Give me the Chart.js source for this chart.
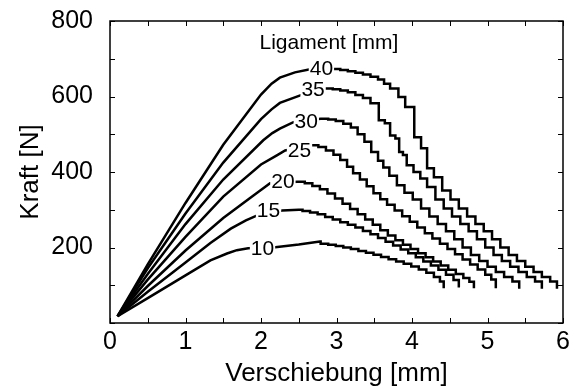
<!DOCTYPE html>
<html>
<head>
<meta charset="utf-8">
<script src="https://cdn.jsdelivr.net/npm/chart.js@4.4.1/dist/chart.umd.min.js"></script>
<style>
  html, body { margin: 0; padding: 0; background: #fff; }
  #wrap { width: 575px; height: 390px; }
</style>
</head>
<body>
<div id="wrap"><canvas id="c" width="575" height="390"></canvas></div>
<script>
// Force-displacement curves for different ligament lengths [mm]
const ligaments = [10, 15, 20, 25, 30, 35, 40];

// Rising (smooth) part of each curve: displacement [mm], force [N]
const riseX10 = [0.1, 0.5, 1.0, 1.33, 1.55, 1.68, 1.83, 2.16, 2.5, 2.78];
const riseY10 = [18, 66, 126, 166, 184, 193, 198, 200, 208, 216];
const riseX15 = [0.1, 0.5, 1.0, 1.33, 1.6, 1.8, 1.95, 2.28, 2.50];
const riseY15 = [18, 83, 160, 212, 250, 272, 285, 298, 300];
const riseX20 = [0.1, 0.5, 1.0, 1.5, 1.9, 2.12, 2.48];
const riseY20 = [18, 98, 192, 278, 338, 370, 374];
const riseX25 = [0.1, 0.5, 1.0, 1.5, 2.0, 2.21, 2.32, 2.67];
const riseY25 = [18, 115, 228, 335, 420, 444, 457, 471];
const riseX30 = [0.1, 0.5, 1.0, 1.5, 2.03, 2.15, 2.25, 2.43, 2.79];
const riseY30 = [18, 130, 262, 380, 484, 503, 515, 532, 541];
const riseX35 = [0.1, 0.5, 1.0, 1.5, 2.0, 2.14, 2.25, 2.52, 2.85];
const riseY35 = [18, 145, 290, 425, 540, 566, 583, 603, 621];
const riseX40 = [0.1, 0.5, 1.0, 1.5, 2.0, 2.14, 2.25, 2.45, 2.65, 2.96];
const riseY40 = [18, 155, 318, 472, 605, 634, 650, 664, 672, 673];

// Stepwise load drops after the peak: displacement of each drop and force after it
const stepX10 = [2.79, 2.89, 2.99, 3.09, 3.19, 3.29, 3.39, 3.49, 3.59, 3.69, 3.79, 3.89, 3.99, 4.09, 4.19, 4.29, 4.37, 4.42];
const stepY10 = [210, 207, 204, 200, 196, 191, 186, 181, 175, 169, 163, 157, 150, 142, 133, 122, 110, 92];
const stepX15 = [2.55, 2.65, 2.75, 2.85, 2.95, 3.05, 3.15, 3.25, 3.35, 3.45, 3.55, 3.65, 3.75, 3.85, 3.95, 4.05, 4.15, 4.25, 4.35, 4.45, 4.55, 4.62];
const stepY15 = [297, 293, 288, 281, 274, 267, 260, 253, 244, 235, 225, 215, 205, 195, 185, 174, 163, 152, 141, 128, 114, 94];
const stepX20 = [2.58, 2.68, 2.78, 2.88, 2.98, 3.08, 3.18, 3.28, 3.38, 3.48, 3.58, 3.68, 3.78, 3.88, 3.98, 4.08, 4.18, 4.28, 4.38, 4.48, 4.58, 4.68, 4.76, 4.82];
const stepY20 = [370, 363, 354, 343, 330, 316, 302, 288, 274, 260, 246, 232, 219, 207, 196, 185, 174, 163, 152, 141, 130, 119, 109, 92];
const stepX25 = [2.76, 2.86, 2.96, 3.05, 3.14, 3.22, 3.31, 3.40, 3.49, 3.58, 3.67, 3.77, 3.87, 3.97, 4.07, 4.17, 4.27, 4.37, 4.47, 4.57, 4.67, 4.77, 4.87, 4.97, 5.05, 5.11];
const stepY25 = [466, 457, 446, 432, 414, 397, 380, 362, 344, 328, 313, 298, 283, 268, 253, 238, 224, 210, 196, 182, 168, 155, 142, 128, 115, 92];
const stepX30 = [2.89, 2.99, 3.09, 3.19, 3.28, 3.37, 3.46, 3.55, 3.62, 3.70, 3.80, 3.90, 4.01, 4.12, 4.23, 4.34, 4.45, 4.56, 4.67, 4.78, 4.89, 5.00, 5.11, 5.22, 5.33, 5.42];
const stepY30 = [539, 535, 528, 518, 500, 480, 453, 430, 412, 390, 365, 345, 327, 303, 282, 262, 243, 222, 200, 180, 164, 149, 135, 122, 110, 91];
const stepX35 = [2.95, 3.05, 3.15, 3.25, 3.35, 3.45, 3.56, 3.64, 3.71, 3.78, 3.83, 3.88, 3.93, 4.02, 4.11, 4.20, 4.31, 4.42, 4.53, 4.64, 4.75, 4.86, 4.97, 5.08, 5.19, 5.30, 5.41, 5.52, 5.63, 5.72];
const stepY35 = [619, 616, 611, 604, 596, 582, 537, 529, 497, 489, 453, 445, 418, 400, 383, 360, 327, 303, 282, 262, 243, 222, 200, 180, 164, 149, 135, 122, 110, 91];
const stepX40 = [3.05, 3.15, 3.25, 3.35, 3.45, 3.55, 3.63, 3.71, 3.82, 3.91, 4.03, 4.12, 4.20, 4.29, 4.40, 4.51, 4.62, 4.73, 4.84, 4.95, 5.06, 5.17, 5.28, 5.39, 5.50, 5.61, 5.72, 5.83, 5.92];
const stepY40 = [670, 667, 663, 658, 652, 645, 634, 621, 599, 572, 492, 463, 410, 386, 351, 327, 303, 282, 262, 243, 222, 200, 180, 164, 149, 135, 122, 110, 91];

// Curve label anchors (centre of the number) in data units
const labelX = [2.02, 2.10, 2.29, 2.51, 2.60, 2.69, 2.80];
const labelY = [198, 298, 375, 457, 534, 619, 675];
const headerText = 'Ligament [mm]';
const headerX = 2.90, headerY = 742;

// Axis ticks
const xTicks = [0, 1, 2, 3, 4, 5, 6];
const yTicks = [200, 400, 600, 800];

const FONT = '"Liberation Sans", Arial, Helvetica, sans-serif';

const rises = { 10: [riseX10, riseY10], 15: [riseX15, riseY15], 20: [riseX20, riseY20], 25: [riseX25, riseY25], 30: [riseX30, riseY30], 35: [riseX35, riseY35], 40: [riseX40, riseY40] };
const steps = { 10: [stepX10, stepY10], 15: [stepX15, stepY15], 20: [stepX20, stepY20], 25: [stepX25, stepY25], 30: [stepX30, stepY30], 35: [stepX35, stepY35], 40: [stepX40, stepY40] };

function buildCurve(lig) {
  const [rx, ry] = rises[lig];
  const [sx, sy] = steps[lig];
  const pts = rx.map((x, i) => ({ x, y: ry[i] }));
  let prev = ry[ry.length - 1];
  sx.forEach((x, i) => {
    pts.push({ x, y: prev });
    pts.push({ x, y: sy[i] });
    prev = sy[i];
  });
  return pts;
}

const datasets = ligaments.map(l => ({
  label: String(l),
  data: buildCurve(l),
  borderColor: '#000',
  borderWidth: 2.5,
  pointRadius: 0,
  tension: 0,
  fill: false
}));

// Frame and inward tick marks on all four sides
const framePlugin = {
  id: 'frame',
  afterDraw(chart) {
    const { ctx, chartArea: a, scales: { x, y } } = chart;
    ctx.save();
    ctx.strokeStyle = '#000';
    ctx.lineWidth = 1;
    const len = 5;
    ctx.beginPath();
    for (let v = 0; v <= 6.0001; v += 0.5) {
      const px = Math.round(x.getPixelForValue(v)) + 0.5;
      ctx.moveTo(px, a.bottom); ctx.lineTo(px, a.bottom - len);
      ctx.moveTo(px, a.top); ctx.lineTo(px, a.top + len);
    }
    for (let v = 0; v <= 800.001; v += 100) {
      const py = Math.round(y.getPixelForValue(v)) + 0.5;
      ctx.moveTo(a.left, py); ctx.lineTo(a.left + len, py);
      ctx.moveTo(a.right, py); ctx.lineTo(a.right - len, py);
    }
    ctx.stroke();
    ctx.lineWidth = 1.5;
    ctx.strokeRect(a.left, a.top, a.right - a.left, a.bottom - a.top);
    ctx.restore();
  }
};

// Inline curve labels with a white backing that interrupts the line
const labelPlugin = {
  id: 'curveLabels',
  afterDatasetsDraw(chart) {
    const { ctx, scales: { x, y } } = chart;
    ctx.save();
    ctx.font = '21px ' + FONT;
    ctx.textAlign = 'center';
    ctx.textBaseline = 'middle';
    ligaments.forEach((l, i) => {
      const px = x.getPixelForValue(labelX[i]);
      const py = y.getPixelForValue(labelY[i]);
      const t = String(l);
      const w = ctx.measureText(t).width;
      ctx.fillStyle = '#fff';
      ctx.fillRect(px - w / 2 - 1, py - 8, w + 2, 16);
      ctx.fillStyle = '#000';
      ctx.fillText(t, px, py + 1);
    });
    ctx.fillText(headerText, x.getPixelForValue(headerX), y.getPixelForValue(headerY));
    ctx.restore();
  }
};

new Chart(document.getElementById('c'), {
  type: 'line',
  data: { datasets },
  options: {
    responsive: false,
    animation: false,
    events: [],
    layout: { padding: { top: 21, right: 12, left: 0, bottom: 0 } },
    plugins: { legend: { display: false }, tooltip: { enabled: false } },
    scales: {
      x: {
        type: 'linear',
        min: 0, max: 6,
        afterFit(s) { s.height = 67; s.paddingLeft = 0; s.paddingRight = 0; },
        afterBuildTicks(s) { s.ticks = xTicks.map(v => ({ value: v })); },
        grid: { display: false, drawTicks: false },
        border: { display: false },
        ticks: { color: '#000', padding: 4, font: { family: FONT, size: 25 }, maxRotation: 0 },
        title: { display: true, text: 'Verschiebung [mm]', color: '#000', font: { family: FONT, size: 26 }, padding: { top: 0, bottom: 1 } }
      },
      y: {
        type: 'linear',
        min: 0, max: 800,
        afterFit(s) { s.width = 110; s.paddingTop = 0; s.paddingBottom = 0; },
        afterBuildTicks(s) { s.ticks = yTicks.map(v => ({ value: v })); },
        grid: { display: false, drawTicks: false },
        border: { display: false },
        ticks: { color: '#000', padding: 17, font: { family: FONT, size: 25 } },
        title: { display: true, text: 'Kraft [N]', color: '#000', font: { family: FONT, size: 26 }, padding: { top: 15, bottom: 0 } }
      }
    }
  },
  plugins: [framePlugin, labelPlugin]
});
</script>
</body>
</html>
